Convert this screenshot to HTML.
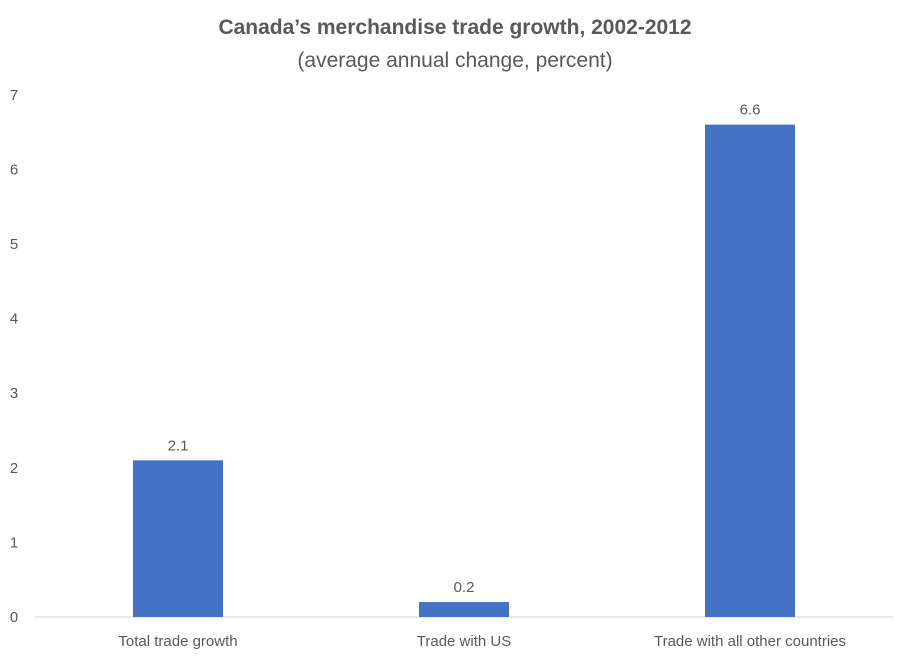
<!DOCTYPE html>
<html><head><meta charset="utf-8"><style>
body{margin:0;background:#fff;}
svg text{font-family:"Liberation Sans",sans-serif;fill:#595959;}
</style></head><body>
<svg width="911" height="661" viewBox="0 0 911 661">
<rect width="911" height="661" fill="#fff"/>
<text x="455" y="34" text-anchor="middle" font-size="21" font-weight="bold">Canada’s merchandise trade growth, 2002-2012</text>
<text x="455" y="67" text-anchor="middle" font-size="21">(average annual change, percent)</text>
<g id="yticks"></g>
<line x1="35" x2="893" y1="617" y2="617" stroke="#d9d9d9" stroke-width="1.3"/>
<g id="bars"></g>
</svg>
<script>
const categories=["Total trade growth","Trade with US","Trade with all other countries"];
const values=[2.1,0.2,6.6];
const valueLabels=["2.1","0.2","6.6"];
const yTicks=[0,1,2,3,4,5,6,7];
const ns="http://www.w3.org/2000/svg";
const y0=617,unit=74.6,left=35,right=893;
const y=v=>y0-v*unit;
const band=(right-left)/categories.length;
const bw=90;
const yg=document.getElementById('yticks');
yTicks.forEach(t=>{const e=document.createElementNS(ns,'text');


e.setAttribute('x',14);e.setAttribute('y',y(t)+5);e.setAttribute('text-anchor','middle');e.setAttribute('font-size','15');e.textContent=t;yg.appendChild(e);});
const bg=document.getElementById('bars');
categories.forEach((c,i)=>{const cx=left+band*(i+0.5);
const r=document.createElementNS(ns,'rect');


r.setAttribute('x',cx-bw/2);r.setAttribute('y',y(values[i]));r.setAttribute('width',bw);r.setAttribute('height',y0-y(values[i]));r.setAttribute('fill','#4472c4');bg.appendChild(r);
const l=document.createElementNS(ns,'text');


l.setAttribute('x',cx);l.setAttribute('y',y(values[i])-10);l.setAttribute('text-anchor','middle');l.setAttribute('font-size','15');l.textContent=valueLabels[i];bg.appendChild(l);
const c2=document.createElementNS(ns,'text');


c2.setAttribute('x',cx);c2.setAttribute('y',646);c2.setAttribute('text-anchor','middle');c2.setAttribute('font-size','15');c2.textContent=c;bg.appendChild(c2);});
</script>
</body></html>
